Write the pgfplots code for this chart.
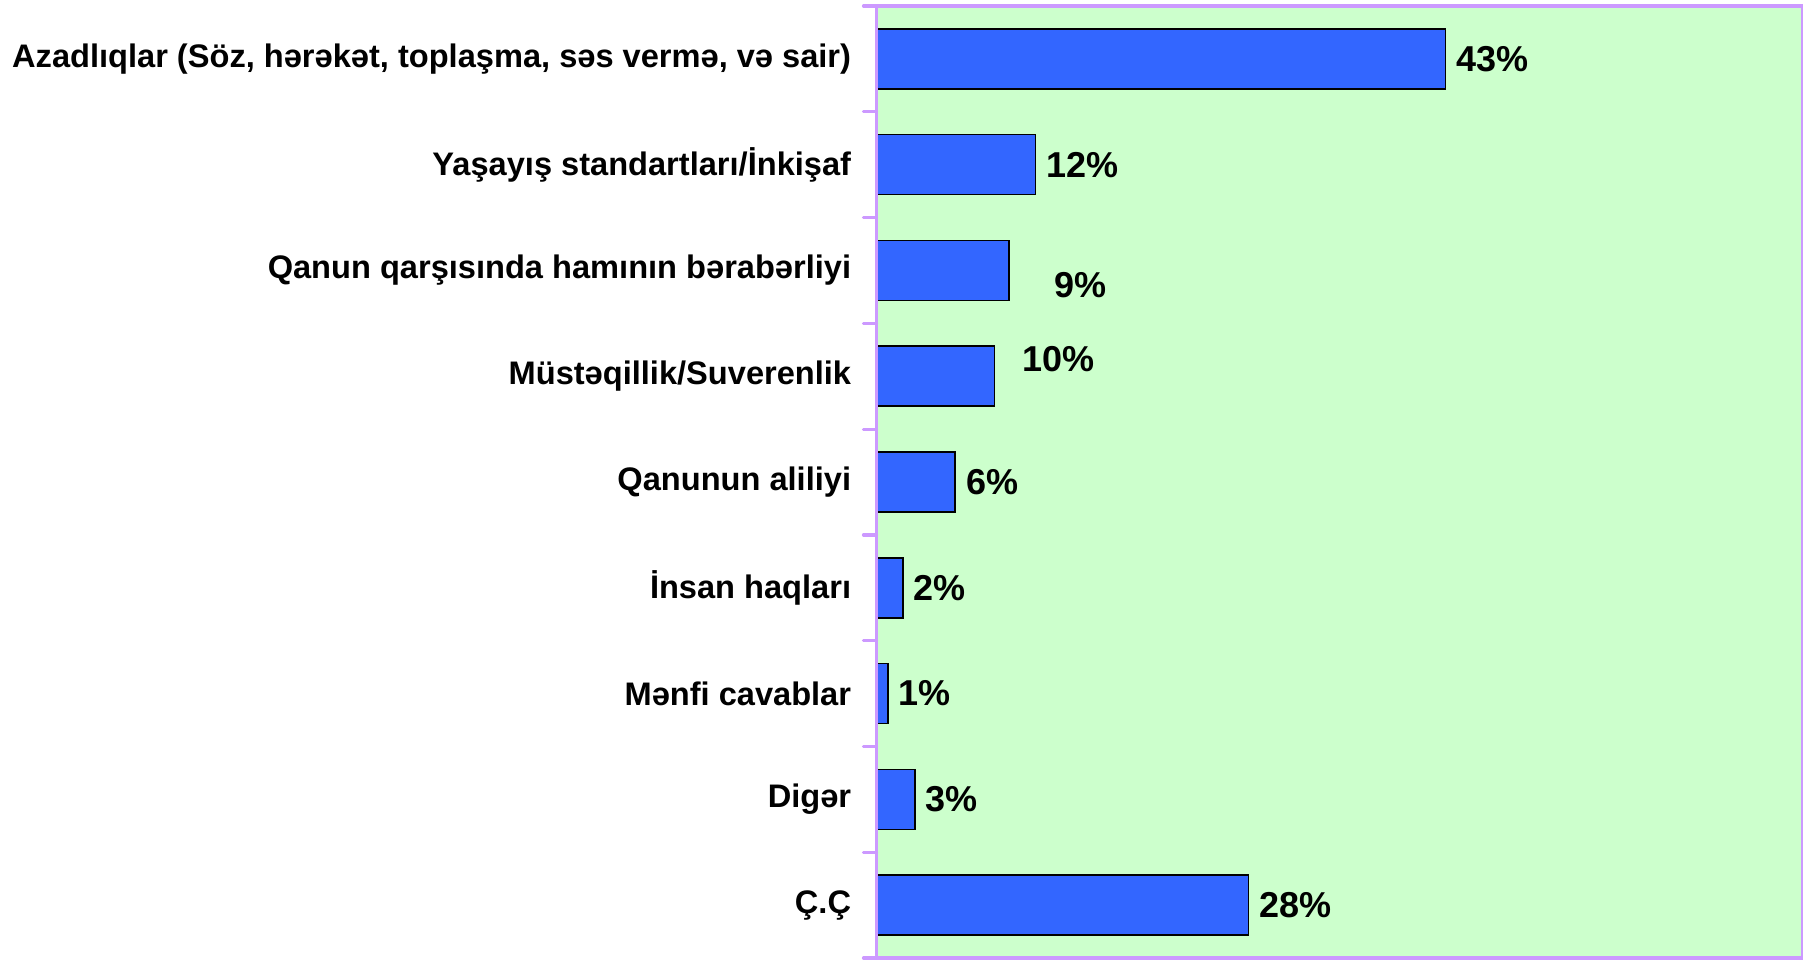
\documentclass[border=0pt]{standalone}
\usepackage{fontspec}
\setmainfont{Liberation Sans}
\usepackage{pgfplots}
\pgfplotsset{compat=1.18}
\usepackage{pgfplotstable}

\definecolor{plotgreen}{HTML}{CCFFCC}
\definecolor{axispurple}{HTML}{CC99FF}
\definecolor{barblue}{HTML}{3366FF}

% y: category row (0 = top), x: bar length, lab: printed value, dx/dy: label nudge (pt)
\pgfplotstableread{
y x    lab dx   dy
0 43   43  0    0
1 12   12  0    0
2 10   9   17.5 -7.2
3 8.9  10  8.5  8.7
4 5.95 6   0    0
5 2    2   0    0
6 0.85 1   0    0
7 2.9  3   0    0
8 28.1 28  0    0
}\datatable

\begin{document}
\begin{tikzpicture}
\begin{axis}[
  name=ax,
  scale only axis,
  width=463.25pt, height=476pt,
  xbar, bar width=30pt,
  xmin=0, xmax=70,
  ymin=-0.5, ymax=8.5, y dir=reverse,
  clip=false,
  axis background/.style={fill=plotgreen},
  axis line style={draw=axispurple, line width=1.75pt},
  axis on top,
  xtick=\empty,
  ytick={0,...,8},
  yticklabels={
    {Azadlıqlar (Söz, hərəkət, toplaşma, səs vermə, və sair)},
    {Yaşayış standartları/İnkişaf},
    {Qanun qarşısında hamının bərabərliyi},
    {Müstəqillik/Suverenlik},
    {Qanunun aliliyi},
    {İnsan haqları},
    {Mənfi cavablar},
    {Digər},
    {Ç.Ç}},
  ytick pos=left,
  major tick length=0pt,
  yticklabel style={font=\bfseries\fontsize{16.3}{19}\selectfont, inner sep=0pt, xshift=-12.5pt},
  nodes near coords={\pgfplotspointmeta\%},
  point meta=explicit symbolic,
  visualization depends on={\thisrow{dx}\as\labdx},
  visualization depends on={\thisrow{dy}\as\labdy},
  nodes near coords style={font=\bfseries\fontsize{18}{21}\selectfont,
    text=black, anchor=west, inner sep=0pt,
    xshift={(5+\labdx)*1pt}, yshift={\labdy*1pt}},
]
\addplot[fill=barblue, draw=black, line width=0.8pt]
  table[x=x, y=y, meta=lab] {\datatable};
% category separators: short purple stubs left of the axis
\pgfplotsinvokeforeach{-0.5,0.5,1.5,2.5,3.5,4.5,5.5,6.5,7.5,8.5}{
  \draw[axispurple, line width=1.6pt, line cap=round]
    (axis cs:0,#1) -- ([xshift=-6.5pt]axis cs:0,#1);
}
\end{axis}
\pgfresetboundingbox
\path[use as bounding box] ([xshift=-438.25pt,yshift=-0.5pt]ax.south west)
  rectangle ([xshift=0pt,yshift=3pt]ax.north east);
\end{tikzpicture}
\end{document}
